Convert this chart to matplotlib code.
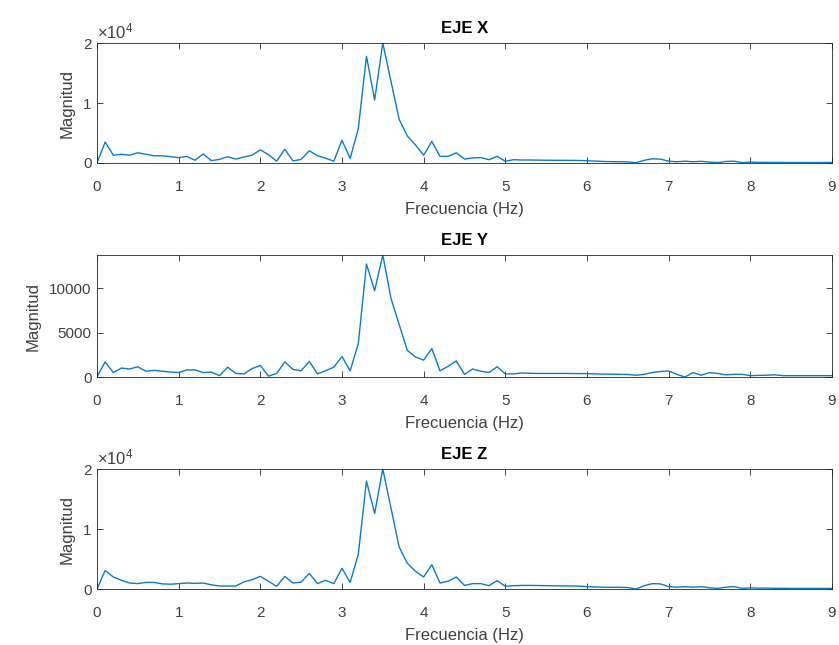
import numpy as np
import matplotlib
matplotlib.use("Agg")
import matplotlib.pyplot as plt
from matplotlib.ticker import FuncFormatter

plt.rcParams['font.family'] = ['Liberation Sans', 'DejaVu Sans']
plt.rcParams['mathtext.fontset'] = 'custom'
plt.rcParams['mathtext.rm'] = 'Liberation Sans'
plt.rcParams['mathtext.it'] = 'Liberation Sans'

# frecuencias (Hz), paso de 0.1
freq = np.round(np.arange(0, 9.01, 0.1), 1)

# magnitudes (0.0 .. 9.0 Hz)
mag_x = [0, 3500, 1300, 1450, 1300, 1700, 1450, 1200, 1200, 1050,
         900, 1100, 450, 1500, 400, 600, 1050, 650, 1000, 1300,
         2200, 1400, 300, 2300, 350, 600, 2050, 1200, 800, 300,
         3800, 750, 5750, 17800, 10500, 20000, 13600, 7300, 4500, 3000,
         1300, 3600, 1100, 1100, 1700, 650, 850, 900, 550, 1100,
         300, 550, 500, 500, 480, 460, 450, 440, 430, 420,
         380, 320, 250, 220, 200, 180, 50, 450, 700, 650,
         300, 200, 300, 200, 280, 150, 60, 250, 300, 60,
         150, 100, 100, 90, 90, 80, 80, 80, 80, 80, 80]

mag_y = [0, 1700, 500, 1000, 900, 1150, 650, 750, 650, 550,
         500, 800, 800, 500, 550, 150, 1100, 400, 350, 950,
         1300, 100, 400, 1700, 850, 700, 1750, 350, 700, 1100,
         2300, 700, 3750, 12700, 9700, 13700, 8850, 5900, 3000, 2250,
         1900, 3200, 700, 1200, 1800, 300, 900, 650, 500, 1150,
         350, 350, 450, 420, 400, 400, 400, 400, 390, 380,
         380, 350, 330, 320, 300, 280, 200, 300, 500, 620,
         680, 300, 0, 500, 200, 500, 400, 250, 300, 300,
         150, 180, 200, 250, 150, 150, 150, 150, 150, 150, 150]

mag_z = [0, 3100, 2000, 1450, 1000, 900, 1100, 1100, 850, 800,
         900, 1000, 950, 1000, 700, 500, 500, 500, 1200, 1550,
         2100, 1300, 450, 2100, 1000, 1150, 2600, 900, 1450, 900,
         3450, 1100, 5800, 18000, 12600, 20000, 13500, 7000, 4300, 2950,
         2000, 4050, 1000, 1300, 2000, 600, 900, 900, 550, 1400,
         450, 550, 600, 600, 580, 560, 540, 520, 500, 480,
         400, 350, 300, 300, 280, 250, 0, 550, 900, 850,
         400, 300, 400, 300, 400, 200, 100, 300, 400, 100,
         200, 150, 150, 120, 120, 100, 100, 100, 100, 100, 100]

titles = ['EJE X', 'EJE Y', 'EJE Z']
series = [mag_x, mag_y, mag_z]
exp_axes = [True, False, True]

line_color = '#0B7BCB'
axis_color = '#262626'
text_color = '#404040'

fig = plt.figure(figsize=(8.39, 6.45), dpi=100)
positions = [[0.1156, 0.7473, 0.876, 0.186],
             [0.1156, 0.4155, 0.876, 0.189],
             [0.1156, 0.0868, 0.876, 0.186]]

for pos, title, mag, use_exp in zip(positions, titles, series, exp_axes):
    ax = fig.add_axes(pos)
    ax.plot(freq, mag, color=line_color, linewidth=1.0)
    ax.set_xlim(0, 9)
    ax.set_ylim(0, max(mag))
    ax.set_xticks(range(0, 10))
    if use_exp:
        ax.set_yticks([0, 10000, 20000])
        ax.yaxis.set_major_formatter(FuncFormatter(lambda v, p: f'{v / 1e4:g}'))
        ax.text(0, 1.01, r'$\times10^{4}$', transform=ax.transAxes,
                fontsize=12, color=text_color, ha='left', va='bottom')
    else:
        ax.set_yticks([0, 5000, 10000])
    ax.set_title(title, fontsize=12, fontweight='bold', color='black', pad=7)
    ax.set_xlabel('Frecuencia (Hz)', fontsize=12, color=text_color, labelpad=6)
    ax.set_ylabel('Magnitud', fontsize=12, color=text_color, labelpad=6)
    ax.tick_params(axis='x', pad=12)
    ax.tick_params(axis='y', pad=4)
    ax.tick_params(direction='in', top=True, right=True, length=4,
                   labelsize=11, color=axis_color, labelcolor=text_color, width=0.6)
    for sp in ax.spines.values():
        sp.set_color(axis_color)
        sp.set_linewidth(0.6)

fig.savefig('out.png', dpi=100)
